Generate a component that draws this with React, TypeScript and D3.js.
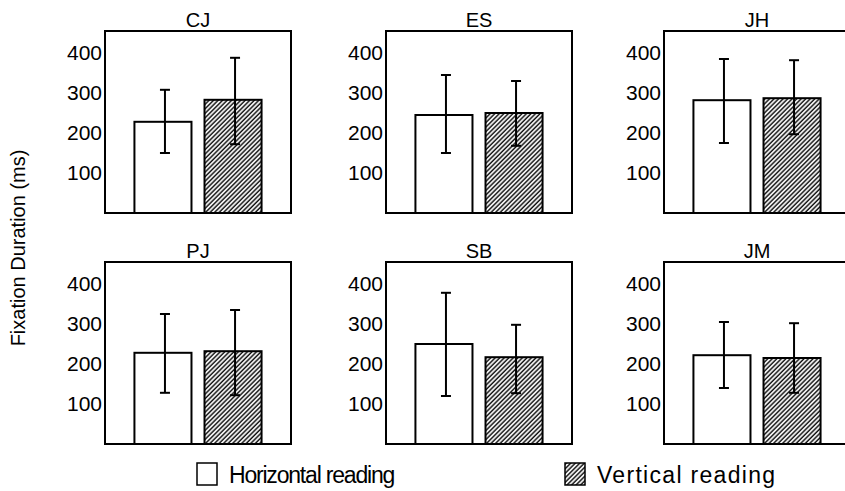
import React, { useRef, useEffect } from 'react'
import * as d3 from 'd3'

// subjects, in reading order (top row, then bottom row)
const subjects = ['CJ', 'ES', 'JH', 'PJ', 'SB', 'JM']
const conditions = ['Horizontal reading', 'Vertical reading']

// mean fixation duration (ms)
const horizontalMean = [228, 245, 282, 228, 250, 222]
const verticalMean = [283, 250, 287, 232, 217, 215]

// error bar extents (ms)
const horizontalLow = [150, 150, 175, 128, 120, 140]
const horizontalHigh = [308, 345, 385, 325, 378, 305]
const verticalLow = [172, 168, 197, 122, 127, 128]
const verticalHigh = [388, 330, 382, 335, 298, 302]

const yTicks = [100, 200, 300, 400]

const W = 845
const H = 491
const FONT = 'Liberation Sans, Arial, Helvetica, sans-serif'

export default function App() {
  const svgRef = useRef<SVGSVGElement>(null)

  useEffect(() => {
    if (!svgRef.current) return
    const svg = d3.select(svgRef.current)
    svg.selectAll('*').remove()

    // hatch pattern for vertical reading
    const defs = svg.append('defs')
    const pat = defs.append('pattern')
      .attr('id', 'hatch')
      .attr('patternUnits', 'userSpaceOnUse')
      .attr('width', 3.2)
      .attr('height', 3.2)
      .attr('patternTransform', 'rotate(45)')
    pat.append('rect').attr('width', 3.2).attr('height', 3.2).attr('fill', '#fff')
    pat.append('line')
      .attr('x1', 1).attr('y1', 0).attr('x2', 1).attr('y2', 3.2)
      .attr('stroke', '#111').attr('stroke-width', 1.5)

    const panelW = 186
    const panelH = 182
    const colX = d3.scaleOrdinal<number, number>().domain([0, 1, 2]).range([105, 386, 664])
    const rowY = d3.scaleOrdinal<number, number>().domain([0, 1]).range([31, 262])

    const x = d3.scaleBand<string>()
      .domain(conditions)
      .range([0, panelW])
      .paddingInner(0.186)
      .paddingOuter(0.42)

    const y = d3.scaleLinear().domain([0, 455]).range([panelH, 0])

    subjects.forEach((name, i) => {
      const g = svg.append('g')
        .attr('transform', `translate(${colX(i % 3)},${rowY(Math.floor(i / 3))})`)

      const rows = [
        { c: conditions[0], m: horizontalMean[i], lo: horizontalLow[i], hi: horizontalHigh[i], fill: '#fff' },
        { c: conditions[1], m: verticalMean[i], lo: verticalLow[i], hi: verticalHigh[i], fill: 'url(#hatch)' }
      ]

      // bars
      g.selectAll('.bar')
        .data(rows)
        .enter()
        .append('rect')
        .attr('class', 'bar')
        .attr('x', d => x(d.c) as number)
        .attr('y', d => y(d.m))
        .attr('width', x.bandwidth())
        .attr('height', d => y(0) - y(d.m))
        .attr('fill', d => d.fill)
        .attr('stroke', '#000')
        .attr('stroke-width', 2)

      // error bars
      const eb = g.selectAll('.err')
        .data(rows)
        .enter()
        .append('g')
        .attr('class', 'err')
        .attr('transform', d => `translate(${(x(d.c) as number) + x.bandwidth() / 2 + 2},0)`)
      eb.append('line')
        .attr('y1', d => y(d.lo)).attr('y2', d => y(d.hi))
        .attr('stroke', '#000').attr('stroke-width', 2)
      eb.append('line')
        .attr('x1', -5).attr('x2', 5)
        .attr('y1', d => y(d.hi)).attr('y2', d => y(d.hi))
        .attr('stroke', '#000').attr('stroke-width', 2)
      eb.append('line')
        .attr('x1', -5).attr('x2', 5)
        .attr('y1', d => y(d.lo)).attr('y2', d => y(d.lo))
        .attr('stroke', '#000').attr('stroke-width', 2)

      // frame
      g.append('rect')
        .attr('width', panelW)
        .attr('height', panelH)
        .attr('fill', 'none')
        .attr('stroke', '#000')
        .attr('stroke-width', 2)

      // y axis labels (no tick marks)
      const yAxis = d3.axisLeft(y).tickValues(yTicks).tickSize(0).tickPadding(3)
      const ax = g.append('g').call(yAxis)
      ax.select('.domain').remove()
      ax.selectAll('text')
        .attr('font-family', FONT)
        .attr('font-size', 21)
        .attr('fill', '#000')

      // title
      g.append('text')
        .attr('x', panelW / 2)
        .attr('y', -4)
        .attr('text-anchor', 'middle')
        .attr('font-family', FONT)
        .attr('font-size', 20)
        .text(name)
    })

    // y axis title
    svg.append('text')
      .attr('transform', 'translate(25,248) rotate(-90)')
      .attr('text-anchor', 'middle')
      .attr('font-family', FONT)
      .attr('font-size', 20)
      .text('Fixation Duration (ms)')

    // legend
    const legendX = [197, 565]
    const legendSpacing = [-1.2, 1.3]
    const leg = svg.selectAll('.legend')
      .data(conditions)
      .enter()
      .append('g')
      .attr('class', 'legend')
      .attr('transform', (d, i) => `translate(${legendX[i]},463)`)
    leg.append('rect')
      .attr('width', 20)
      .attr('height', 22)
      .attr('fill', (d, i) => (i === 0 ? '#fff' : 'url(#hatch)'))
      .attr('stroke', '#000')
      .attr('stroke-width', 1.5)
    leg.append('text')
      .attr('x', 32)
      .attr('y', 20)
      .attr('font-family', FONT)
      .attr('font-size', 23)
      .attr('letter-spacing', (d, i) => legendSpacing[i])
      .text(d => d)
  }, [])

  return (
    <svg
      ref={svgRef}
      width={W}
      height={H}
      style={{ position: 'absolute', left: 0, top: 0, background: '#fff' }}
    />
  )
}
